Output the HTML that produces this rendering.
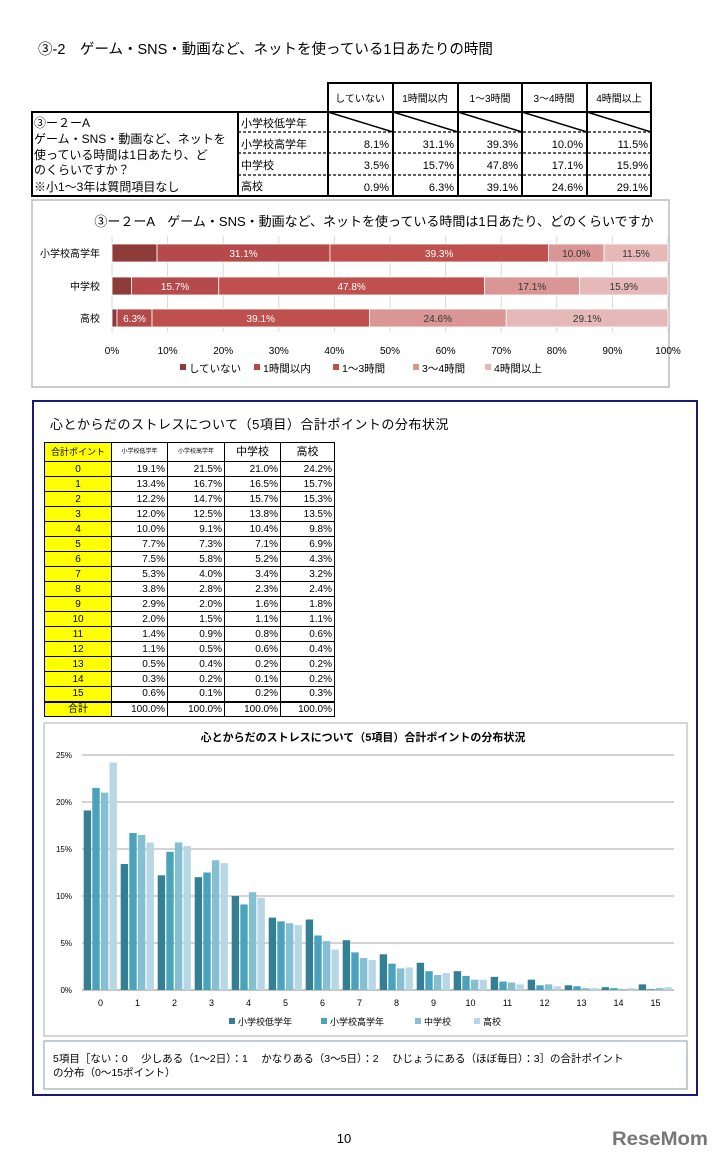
<!DOCTYPE html>
<html><head><meta charset="utf-8">
<style>
*{margin:0;padding:0;box-sizing:border-box}
body{width:722px;height:1159px;background:#fff;position:relative;overflow:hidden;font-family:"Liberation Sans","Noto Sans CJK JP",sans-serif;color:#000}
.abs{position:absolute}
table{border-collapse:collapse}
#t2 td{border:1px solid #000;font-size:10px;text-align:right;padding:0 2px;height:15px;line-height:13px}
#t2 td.y{background:#ffff00;text-align:center}
</style></head><body>
<div class="abs" style="left:38px;top:38px;font-size:14.5px;">③-2　ゲーム・SNS・動画など、ネットを使っている1日あたりの時間</div>

<svg class="abs" style="left:0;top:0" width="722" height="400">
 <g stroke="#000" stroke-width="2" fill="none">
  <rect x="328" y="83" width="323" height="29"/>
  <rect x="32" y="112" width="619" height="84"/>
  <line x1="238" y1="112" x2="238" y2="196"/>
  <line x1="328" y1="112" x2="328" y2="196"/>
  <line x1="393" y1="83" x2="393" y2="196"/>
  <line x1="458" y1="83" x2="458" y2="196"/>
  <line x1="522" y1="83" x2="522" y2="196"/>
  <line x1="587" y1="83" x2="587" y2="196"/>
 </g>
 <g stroke="#000" stroke-width="1.2" stroke-dasharray="3,2">
  <line x1="238" y1="132" x2="651" y2="132"/><line x1="238" y1="153" x2="651" y2="153"/><line x1="238" y1="175" x2="651" y2="175"/>
 </g>
 <g stroke="#000" stroke-width="1.5">
  <line x1="328" y1="112" x2="393" y2="132"/><line x1="393" y1="112" x2="458" y2="132"/><line x1="458" y1="112" x2="522" y2="132"/><line x1="522" y1="112" x2="587" y2="132"/><line x1="587" y1="112" x2="651" y2="132"/>
 </g>
 <g font-size="10" text-anchor="middle" font-family="Liberation Sans, Noto Sans CJK JP, sans-serif">
  <text x="360" y="102">していない</text><text x="425" y="102">1時間以内</text><text x="490" y="102">1～3時間</text><text x="554" y="102">3～4時間</text><text x="619" y="102">4時間以上</text>
 </g>
 <g font-size="11" font-family="Liberation Sans, Noto Sans CJK JP, sans-serif">
  <text x="241" y="127">小学校低学年</text><text x="241" y="148">小学校高学年</text><text x="241" y="169">中学校</text><text x="241" y="190">高校</text>
  <text x="34" y="127" font-size="12">③ー２ーA</text>
  <text x="34" y="143" font-size="12">ゲーム・SNS・動画など、ネットを</text>
  <text x="34" y="159" font-size="12">使っている時間は1日あたり、ど</text>
  <text x="34" y="174" font-size="12">のくらいですか？</text>
  <text x="34" y="191" font-size="12">※小1～3年は質問項目なし</text>
 </g>
 <g font-size="11" text-anchor="end" font-family="Liberation Sans, sans-serif">
  <text x="389" y="148">8.1%</text><text x="454" y="148">31.1%</text><text x="518" y="148">39.3%</text><text x="583" y="148">10.0%</text><text x="648" y="148">11.5%</text>
  <text x="389" y="169">3.5%</text><text x="454" y="169">15.7%</text><text x="518" y="169">47.8%</text><text x="583" y="169">17.1%</text><text x="648" y="169">15.9%</text>
  <text x="389" y="191">0.9%</text><text x="454" y="191">6.3%</text><text x="518" y="191">39.1%</text><text x="583" y="191">24.6%</text><text x="648" y="191">29.1%</text>
 </g>
 <rect x="32" y="200" width="637" height="187" fill="none" stroke="#bbb" stroke-width="1.5"/>
 <text x="374" y="226" text-anchor="middle" font-size="13" font-family="Liberation Sans, Noto Sans CJK JP, sans-serif">③ー２ーA　ゲーム・SNS・動画など、ネットを使っている時間は1日あたり、どのくらいですか</text>
 <g id="sb"></g>
</svg>

<div class="abs" style="left:32px;top:400px;width:666px;height:696px;border:2px solid #1a1a6e;"></div>
<div class="abs" style="left:50px;top:414px;font-size:13px;letter-spacing:0.5px">心とからだのストレスについて（5項目）合計ポイントの分布状況</div>
<table id="t2" class="abs" style="left:44px;top:442px;width:291px"></table>

<svg class="abs" style="left:0;top:0" width="722" height="1159">
 <rect x="44" y="723" width="643" height="313" fill="none" stroke="#bbb" stroke-width="1.2"/>
 <text x="363" y="741" text-anchor="middle" font-size="11" font-weight="bold" font-family="Liberation Sans, Noto Sans CJK JP, sans-serif">心とからだのストレスについて（5項目）合計ポイントの分布状況</text>
 <g id="cb"></g>
 <rect x="44" y="1041" width="643" height="48" fill="none" stroke="#9ab" stroke-width="1.2"/>
 <text x="53" y="1062" font-size="10.5" font-family="Liberation Sans, Noto Sans CJK JP, sans-serif">5項目［ない：0　 少しある（1～2日）：1　 かなりある（3～5日）：2　 ひじょうにある（ほぼ毎日）：3］の合計ポイント</text>
 <text x="53" y="1076" font-size="10.5" font-family="Liberation Sans, Noto Sans CJK JP, sans-serif">の分布（0～15ポイント）</text>
 <text x="344" y="1143" text-anchor="middle" font-size="13">10</text>
 <text x="612" y="1145" font-size="19" font-weight="bold" fill="#777" font-family="Liberation Sans, sans-serif" textLength="96" lengthAdjust="spacingAndGlyphs">ReseMom</text>
</svg>

<script>
// stacked chart data
const sbGroups=['小学校高学年','中学校','高校'];
const sbSeries=['していない','1時間以内','1～3時間','3～4時間','4時間以上'];
const sbVals=[[8.1,31.1,39.3,10.0,11.5],[3.5,15.7,47.8,17.1,15.9],[0.9,6.3,39.1,24.6,29.1]];
const sbTicks=[0,10,20,30,40,50,60,70,80,90,100];
// stress data
const cats=['0','1','2','3','4','5','6','7','8','9','10','11','12','13','14','15'];
const seriesNames=['小学校低学年','小学校高学年','中学校','高校'];
const sLow=[19.1,13.4,12.2,12.0,10.0,7.7,7.5,5.3,3.8,2.9,2.0,1.4,1.1,0.5,0.3,0.6];
const sHigh=[21.5,16.7,14.7,12.5,9.1,7.3,5.8,4.0,2.8,2.0,1.5,0.9,0.5,0.4,0.2,0.1];
const sMid=[21.0,16.5,15.7,13.8,10.4,7.1,5.2,3.4,2.3,1.6,1.1,0.8,0.6,0.2,0.1,0.2];
const sHs=[24.2,15.7,15.3,13.5,9.8,6.9,4.3,3.2,2.4,1.8,1.1,0.6,0.4,0.2,0.2,0.3];
const yTicks=[0,5,10,15,20,25];

const NS='http://www.w3.org/2000/svg';
function mk(t,a,p){const e=document.createElementNS(NS,t);for(const k in a)e.setAttribute(k,a[k]);p.appendChild(e);return e;}
const FF='Liberation Sans, Noto Sans CJK JP, sans-serif';

// stacked bar
(function(){
 const g=document.getElementById('sb');
 const x0=112,x1=668,xs=v=>x0+(x1-x0)*v/100;
 const rows=[244,277,309],bh=18;
 const cols=['#8e3b39','#b6494a','#c0504d','#d99694','#e6b9b8'];
 const tcol=['#fff','#fff','#fff','#333','#333'];
 sbTicks.forEach(t=>{
  const l=mk('line',{x1:xs(t),x2:xs(t),y1:236,y2:332,stroke:'#d8d8d8'},g);
  
  
  const tx=mk('text',{x:xs(t),y:354,'text-anchor':'middle','font-size':10,'font-family':FF},g);
  tx.textContent=t+'%';
  
  
 });
 sbGroups.forEach((gn,i)=>{
  const y=rows[i];
  const lb=mk('text',{x:100,y:y+13,'text-anchor':'end','font-size':10,'font-family':FF},g);
  lb.textContent=gn;
  
  
  let acc=0;
  sbVals[i].forEach((v,j)=>{
   const r=mk('rect',{x:xs(acc),y:y,width:xs(acc+v)-xs(acc),height:bh,fill:cols[j],stroke:'#fff','stroke-width':0.8},g);
   
   
   if(j>0&&v>=5){const t=mk('text',{x:(xs(acc)+xs(acc+v))/2,y:y+13,'text-anchor':'middle','font-size':10,fill:tcol[j],'font-family':FF},g);t.textContent=v.toFixed(1)+'%';
    
    }
   acc+=v;
  });
 });
 const lx=[180,254,333,413,485];
 sbSeries.forEach((s,j)=>{
  mk('rect',{x:lx[j],y:364,width:6,height:6,fill:cols[j]},g);
  const t=mk('text',{x:lx[j]+9,y:372,'font-size':10.5,'font-family':FF},g);t.textContent=s;
  
  
 });
})();

// table 2
(function(){
 const t=document.getElementById('t2');
 const series=[sLow,sHigh,sMid,sHs];
 let h='<tr><td class="y" style="font-size:9px;width:67px">合計ポイント</td><td style="font-size:6px;text-align:center;width:56px">小学校低学年</td><td style="font-size:6px;text-align:center;width:57px">小学校高学年</td><td style="font-size:11px;text-align:center;width:56px;height:19px">中学校</td><td style="font-size:11px;text-align:center">高校</td></tr>';
 cats.forEach((c,i)=>{h+='<tr><td class="y">'+c+'</td>'+series.map(s=>'<td>'+s[i].toFixed(1)+'%</td>').join('')+'</tr>';});
 h+='<tr style="border-top:2px solid #000"><td class="y">合計</td><td>100.0%</td><td>100.0%</td><td>100.0%</td><td>100.0%</td></tr>';
 t.innerHTML=h;
})();

// stress bar chart
(function(){
 const g=document.getElementById('cb');
 const x0=82,x1=674,yb=990,yt=755,ys=v=>yb-(yb-yt)*v/25;
 const cols=['#347f94','#4aa2bb','#85bfd2','#b8d7e4'];
 const series=[sLow,sHigh,sMid,sHs];
 yTicks.forEach(t=>{
  const l=mk('line',{x1:x0,x2:x1,y1:ys(t),y2:ys(t),stroke:t?'#aaa':'#888'},g);
  
  
  const tx=mk('text',{x:72,y:ys(t)+3,'text-anchor':'end','font-size':8,'font-family':FF},g);tx.textContent=t+'%';
  
  
 });
 const cw=(x1-x0)/cats.length,bw=7.4;
 cats.forEach((c,i)=>{
  const cx=x0+cw*i+cw/2;
  series.forEach((s,j)=>{
   const x=cx-2*bw-2+j*(bw+1.2);
   const r=mk('rect',{x:x,y:ys(s[i]),width:bw,height:yb-ys(s[i]),fill:cols[j]},g);
   
   
  });
  const t=mk('text',{x:cx,y:1006,'text-anchor':'middle','font-size':9,'font-family':FF},g);t.textContent=c;
  
  
 });
 const lx=[229,321,415,474];
 seriesNames.forEach((s,j)=>{
  mk('rect',{x:lx[j],y:1018,width:6,height:6,fill:cols[j]},g);
  const t=mk('text',{x:lx[j]+9,y:1025,'font-size':9,'font-family':FF},g);t.textContent=s;
  
  
 });
})();
</script>
</body></html>
